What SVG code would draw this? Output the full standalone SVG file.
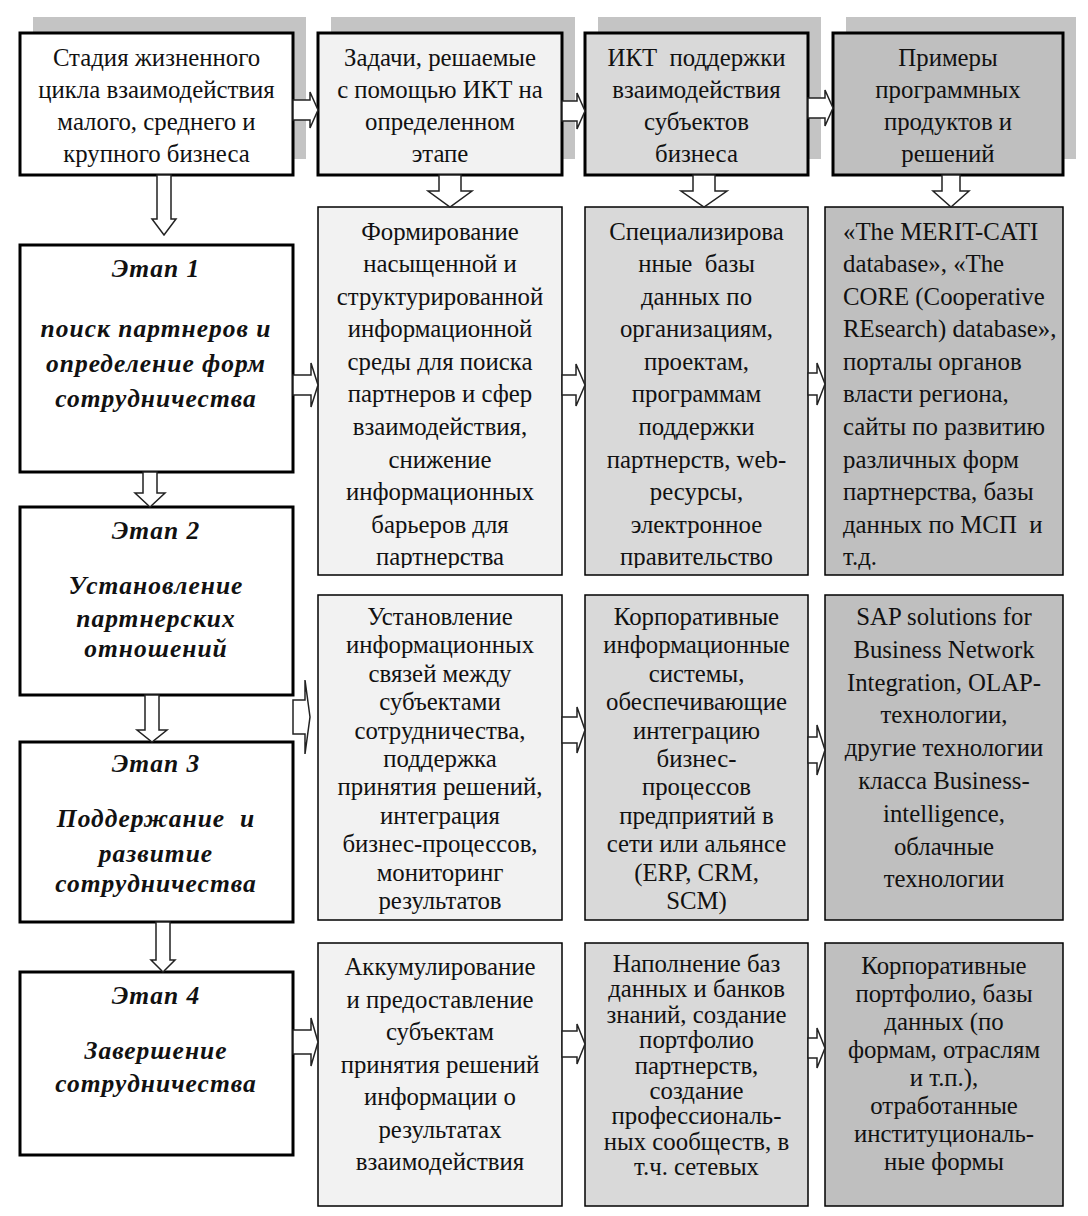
<svg xmlns="http://www.w3.org/2000/svg" width="1088" height="1216" viewBox="0 0 1088 1216">
<style>
.t{font-family:"Liberation Serif","Times New Roman",serif;font-size:24.8px;fill:#111;text-anchor:middle}
.l{text-anchor:start}
.e{font-weight:bold;font-style:italic;letter-spacing:1px;font-size:25.5px}
.h{stroke:#000;stroke-width:3}
.b{stroke:#000;stroke-width:1.5}
.sh{fill:#c4c4c4}
.arr{fill:#fff;stroke:#222;stroke-width:1.5;stroke-linejoin:miter}
.c1{fill:#fff}.c2{fill:#f2f2f2}.c3{fill:#d9d9d9}.c4{fill:#bfbfbf}
</style>
<defs>
<clipPath id="clipR1"><rect x="318" y="207" width="500" height="361"/></clipPath>
</defs>
<rect width="1088" height="1216" fill="#fff"/>
<g id="shadows">
<rect class="sh" x="33" y="17" width="273" height="142"/>
<rect class="sh" x="331" y="17" width="244" height="142"/>
<rect class="sh" x="598" y="17" width="223" height="142"/>
<rect class="sh" x="846" y="17" width="230" height="142"/>
</g>
<g id="h1">
<rect class="h c1" x="20" y="33" width="273" height="142"/>
<text class="t" x="156.5" y="66">Стадия жизненного</text>
<text class="t" x="156.5" y="98">цикла взаимодействия</text>
<text class="t" x="156.5" y="130">малого, среднего и</text>
<text class="t" x="156.5" y="162">крупного бизнеса</text>
</g>
<g id="h2">
<rect class="h c2" x="318" y="33" width="244" height="142"/>
<text class="t" x="440" y="66">Задачи, решаемые</text>
<text class="t" x="440" y="98">с помощью ИКТ на</text>
<text class="t" x="440" y="130">определенном</text>
<text class="t" x="440" y="162">этапе</text>
</g>
<g id="h3">
<rect class="h c3" x="585" y="33" width="223" height="142"/>
<text class="t" x="696.5" y="66" xml:space="preserve">ИКТ  поддержки</text>
<text class="t" x="696.5" y="98">взаимодействия</text>
<text class="t" x="696.5" y="130">субъектов</text>
<text class="t" x="696.5" y="162">бизнеса</text>
</g>
<g id="h4">
<rect class="h c4" x="833" y="33" width="230" height="142"/>
<text class="t" x="948" y="66">Примеры</text>
<text class="t" x="948" y="98">программных</text>
<text class="t" x="948" y="130">продуктов и</text>
<text class="t" x="948" y="162">решений</text>
</g>
<g id="stage1">
<rect class="h c1" x="20" y="245" width="273" height="227"/>
<text class="t e" x="156" y="277">Этап 1</text>
<text class="t e" x="156" y="337">поиск партнеров и</text>
<text class="t e" x="156" y="372">определение форм</text>
<text class="t e" x="156" y="407">сотрудничества</text>
</g>
<g id="stage2">
<rect class="h c1" x="20" y="507" width="273" height="188"/>
<text class="t e" x="156" y="539">Этап 2</text>
<text class="t e" x="156" y="594">Установление</text>
<text class="t e" x="156" y="627">партнерских</text>
<text class="t e" x="156" y="657">отношений</text>
</g>
<g id="stage3">
<rect class="h c1" x="20" y="742" width="273" height="180"/>
<text class="t e" x="156" y="772">Этап 3</text>
<text class="t e" x="156" y="827" xml:space="preserve">Поддержание  и</text>
<text class="t e" x="156" y="862">развитие</text>
<text class="t e" x="156" y="892">сотрудничества</text>
</g>
<g id="stage4">
<rect class="h c1" x="20" y="972" width="273" height="183"/>
<text class="t e" x="156" y="1004">Этап 4</text>
<text class="t e" x="156" y="1059">Завершение</text>
<text class="t e" x="156" y="1092">сотрудничества</text>
</g>
<g id="r1c2">
<rect class="b c2" x="318" y="207" width="244" height="368"/>
<g clip-path="url(#clipR1)">
<text class="t" x="440" y="240">Формирование</text>
<text class="t" x="440" y="272">насыщенной и</text>
<text class="t" x="440" y="305">структурированной</text>
<text class="t" x="440" y="337">информационной</text>
<text class="t" x="440" y="370">среды для поиска</text>
<text class="t" x="440" y="402">партнеров и сфер</text>
<text class="t" x="440" y="435">взаимодействия,</text>
<text class="t" x="440" y="468">снижение</text>
<text class="t" x="440" y="500">информационных</text>
<text class="t" x="440" y="533">барьеров для</text>
<text class="t" x="440" y="565">партнерства</text>
</g>
</g>
<g id="r1c3">
<rect class="b c3" x="585" y="207" width="223" height="368"/>
<g clip-path="url(#clipR1)">
<text class="t" x="696.5" y="240">Специализирова</text>
<text class="t" x="696.5" y="272" xml:space="preserve">нные  базы</text>
<text class="t" x="696.5" y="305">данных по</text>
<text class="t" x="696.5" y="337">организациям,</text>
<text class="t" x="696.5" y="370">проектам,</text>
<text class="t" x="696.5" y="402">программам</text>
<text class="t" x="696.5" y="435">поддержки</text>
<text class="t" x="696.5" y="468">партнерств, web-</text>
<text class="t" x="696.5" y="500">ресурсы,</text>
<text class="t" x="696.5" y="533">электронное</text>
<text class="t" x="696.5" y="565">правительство</text>
</g>
</g>
<g id="r1c4">
<rect class="b c4" x="825" y="207" width="238" height="368"/>
<text class="t l" x="843" y="240">«The MERIT-CATI</text>
<text class="t l" x="843" y="272">database», «The</text>
<text class="t l" x="843" y="305">CORE (Cooperative</text>
<text class="t l" x="843" y="337">REsearch) database»,</text>
<text class="t l" x="843" y="370">порталы органов</text>
<text class="t l" x="843" y="402">власти региона,</text>
<text class="t l" x="843" y="435">сайты по развитию</text>
<text class="t l" x="843" y="468">различных форм</text>
<text class="t l" x="843" y="500">партнерства, базы</text>
<text class="t l" x="843" y="533" xml:space="preserve">данных по МСП  и</text>
<text class="t l" x="843" y="565">т.д.</text>
</g>
<g id="r2c2">
<rect class="b c2" x="318" y="595" width="244" height="325"/>
<text class="t" x="440" y="625">Установление</text>
<text class="t" x="440" y="653">информационных</text>
<text class="t" x="440" y="682">связей между</text>
<text class="t" x="440" y="710">субъектами</text>
<text class="t" x="440" y="739">сотрудничества,</text>
<text class="t" x="440" y="767">поддержка</text>
<text class="t" x="440" y="795">принятия решений,</text>
<text class="t" x="440" y="824">интеграция</text>
<text class="t" x="440" y="852">бизнес-процессов,</text>
<text class="t" x="440" y="881">мониторинг</text>
<text class="t" x="440" y="909">результатов</text>
</g>
<g id="r2c3">
<rect class="b c3" x="585" y="595" width="223" height="325"/>
<text class="t" x="696.5" y="625">Корпоративные</text>
<text class="t" x="696.5" y="653">информационные</text>
<text class="t" x="696.5" y="682">системы,</text>
<text class="t" x="696.5" y="710">обеспечивающие</text>
<text class="t" x="696.5" y="739">интеграцию</text>
<text class="t" x="696.5" y="767">бизнес-</text>
<text class="t" x="696.5" y="795">процессов</text>
<text class="t" x="696.5" y="824">предприятий в</text>
<text class="t" x="696.5" y="852">сети или альянсе</text>
<text class="t" x="696.5" y="881">(ERP, CRM,</text>
<text class="t" x="696.5" y="909">SCM)</text>
</g>
<g id="r2c4">
<rect class="b c4" x="825" y="595" width="238" height="325"/>
<text class="t" x="944" y="625">SAP solutions for</text>
<text class="t" x="944" y="658">Business Network</text>
<text class="t" x="944" y="691">Integration, OLAP-</text>
<text class="t" x="944" y="723">технологии,</text>
<text class="t" x="944" y="756">другие технологии</text>
<text class="t" x="944" y="789">класса Business-</text>
<text class="t" x="944" y="822">intelligence,</text>
<text class="t" x="944" y="855">облачные</text>
<text class="t" x="944" y="887">технологии</text>
</g>
<g id="r3c2">
<rect class="b c2" x="318" y="943" width="244" height="263"/>
<text class="t" x="440" y="975">Аккумулирование</text>
<text class="t" x="440" y="1008">и предоставление</text>
<text class="t" x="440" y="1040">субъектам</text>
<text class="t" x="440" y="1073">принятия решений</text>
<text class="t" x="440" y="1105">информации о</text>
<text class="t" x="440" y="1138">результатах</text>
<text class="t" x="440" y="1170">взаимодействия</text>
</g>
<g id="r3c3">
<rect class="b c3" x="585" y="943" width="223" height="263"/>
<text class="t" x="696.5" y="972">Наполнение баз</text>
<text class="t" x="696.5" y="997">данных и банков</text>
<text class="t" x="696.5" y="1023">знаний, создание</text>
<text class="t" x="696.5" y="1048">портфолио</text>
<text class="t" x="696.5" y="1074">партнерств,</text>
<text class="t" x="696.5" y="1099">создание</text>
<text class="t" x="696.5" y="1124">профессиональ-</text>
<text class="t" x="696.5" y="1150">ных сообществ, в</text>
<text class="t" x="696.5" y="1175">т.ч. сетевых</text>
</g>
<g id="r3c4">
<rect class="b c4" x="825" y="943" width="238" height="263"/>
<text class="t" x="944" y="974">Корпоративные</text>
<text class="t" x="944" y="1002">портфолио, базы</text>
<text class="t" x="944" y="1030">данных (по</text>
<text class="t" x="944" y="1058">формам, отраслям</text>
<text class="t" x="944" y="1086">и т.п.),</text>
<text class="t" x="944" y="1114">отработанные</text>
<text class="t" x="944" y="1142">институциональ-</text>
<text class="t" x="944" y="1170">ные формы</text>
</g>
<g id="connectors">
<path class="arr" d="M293,100 H310 V92 L318,110 L310,128 V120 H293 Z"/>
<path class="arr" d="M562,101 H577 V93 L585,111 L577,129 V121 H562 Z"/>
<path class="arr" d="M808,98 H825 V90 L833,108 L825,126 V118 H808 Z"/>
<path class="arr" d="M157,175 V219 H152 L164,235 L176,219 H171 V175 Z"/>
<path class="arr" d="M439,175 V191 H428 L450,207 L472,191 H461 V175 Z"/>
<path class="arr" d="M693,175 V191 H681 L704,207 L727,191 H715 V175 Z"/>
<path class="arr" d="M942,175 V191 H933 L951,207 L969,191 H960 V175 Z"/>
<path class="arr" d="M143,472 V493 H135 L150,507 L165,493 H157 V472 Z"/>
<path class="arr" d="M145,695 V730 H137 L152,742 L167,730 H159 V695 Z"/>
<path class="arr" d="M156,922 V960 H151 L163,972 L175,960 H170 V922 Z"/>
<path class="arr" d="M293,375 H311 V363 L318,385 L311,407 V395 H293 Z"/>
<path class="arr" d="M562,375 H576 V364 L585,385 L576,406 V395 H562 Z"/>
<path class="arr" d="M808,373 H817 V363 L825,384 L817,405 V395 H808 Z"/>
<path class="arr" d="M293,700 H305 V680 L310,717 L305,754 V734 H293 Z"/>
<path class="arr" d="M562,717 H577 V707 L585,730 L577,753 V743 H562 Z"/>
<path class="arr" d="M808,737 H817 V725 L825,750 L817,775 V763 H808 Z"/>
<path class="arr" d="M293,1030 H311 V1018 L318,1042 L311,1066 V1054 H293 Z"/>
<path class="arr" d="M562,1031 H577 V1024 L585,1044 L577,1064 V1057 H562 Z"/>
<path class="arr" d="M808,1038 H817 V1028 L825,1048 L817,1068 V1058 H808 Z"/>
</g>
</svg>
